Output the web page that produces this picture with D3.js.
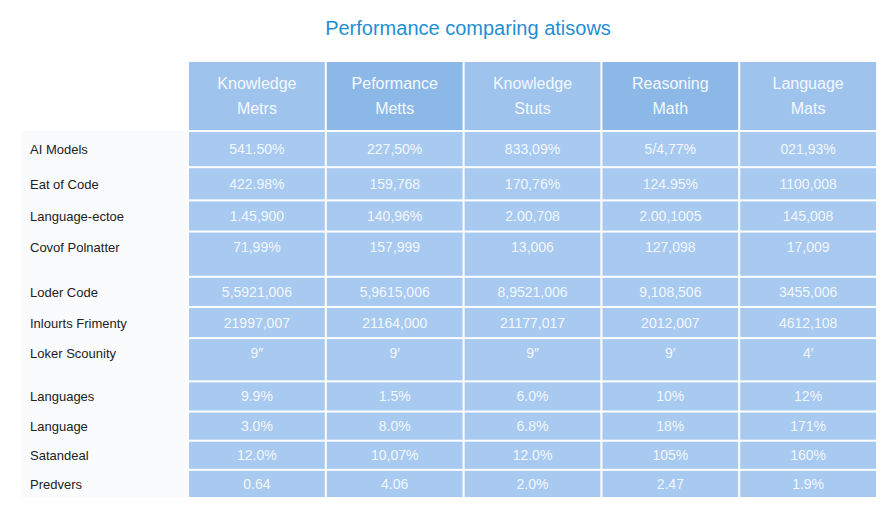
<!DOCTYPE html>
<html>
<head>
<meta charset="utf-8">
<script src="https://cdn.jsdelivr.net/npm/d3@7"></script>
<style>
  body { margin: 0; background: #fff; }
  svg { display: block; font-family: "Liberation Sans", Arial, sans-serif; }
</style>
</head>
<body>
<svg id="chart" width="896" height="512"></svg>
<script>
const TITLE = "Performance comparing atisows";
const COLUMNS = [
  ["Knowledge", "Metrs"],
  ["Peformance", "Metts"],
  ["Knowledge", "Stuts"],
  ["Reasoning", "Math"],
  ["Language", "Mats"],
];
const ROW_LABELS = [
  "AI Models", "Eat of Code", "Language-ectoe", "Covof Polnatter",
  "Loder Code", "Inlourts Frimenty", "Loker Scounity",
  "Languages", "Language", "Satandeal", "Predvers",
];
const VALUES = [
  ["541.50%", "227,50%", "833,09%", "5/4,77%", "021,93%"],
  ["422.98%", "159,768", "170,76%", "124.95%", "1100,008"],
  ["1.45,900", "140,96%", "2.00,708", "2.00,1005", "145,008"],
  ["71,99%", "157,999", "13,006", "127,098", "17,009"],
  ["5,5921,006", "5,9615,006", "8,9521,006", "9,108,506", "3455,006"],
  ["21997,007", "21164,000", "21177,017", "2012,007", "4612,108"],
  ["9\u2033", "9\u2032", "9\u2033", "9\u2032", "4\u2032"],
  ["9.9%", "1.5%", "6.0%", "10%", "12%"],
  ["3.0%", "8.0%", "6.8%", "18%", "171%"],
  ["12.0%", "10,07%", "12.0%", "105%", "160%"],
  ["0.64", "4.06", "2.0%", "2.47", "1.9%"],
];
// relative row heights (layout, not data); tall rows leave a gap under their text
const ROW_UNITS = [36, 33, 31, 45, 30, 31, 43, 30, 29, 29, 28];
const TALL = [3, 6];

const svg = d3.select("#chart");
const tableLeft = 188, tableRight = 877, headTop = 62, headBottom = 131, tableBottom = 498;

svg.append("text")
  .attr("x", 468).attr("y", 35)
  .attr("text-anchor", "middle")
  .attr("font-size", 20)
  .attr("fill", "#1f8fd3")
  .text(TITLE);

const x = d3.scaleBand().domain(d3.range(COLUMNS.length)).range([tableLeft, tableRight]);

const cum = [0, ...d3.cumsum(ROW_UNITS)];
const y = d3.scaleLinear().domain([0, cum[cum.length - 1]]).range([headBottom, tableBottom]);

// header
const head = svg.append("g");
head.selectAll("rect")
  .data(COLUMNS)
  .join("rect")
  .attr("x", (_, i) => x(i) + 1)
  .attr("y", headTop)
  .attr("width", x.bandwidth() - 2)
  .attr("height", headBottom - headTop - 1)
  .attr("fill", (_, i) => i % 2 ? "#8cb8e8" : "#9ec4ee");
head.selectAll("text")
  .data(COLUMNS)
  .join("text")
  .attr("x", (_, i) => x(i) + x.bandwidth() / 2)
  .attr("text-anchor", "middle")
  .attr("font-size", 16)
  .attr("fill", "#f4f8fd")
  .selectAll("tspan")
  .data((d) => d)
  .join("tspan")
  .attr("x", function () { return this.parentNode.getAttribute("x"); })
  .attr("y", (_, j) => 89 + j * 25)
  .text((d) => d);

// label background
svg.append("rect")
  .attr("x", 22).attr("y", y(0)).attr("width", tableLeft - 22).attr("height", tableBottom - y(0))
  .attr("fill", "#fafbfd");

const rows = svg.selectAll("g.row")
  .data(VALUES)
  .join("g")
  .attr("class", "row");

rows.each(function (vals, r) {
  const g = d3.select(this);
  const top = y(cum[r]), bottom = y(cum[r + 1]);
  const ty = TALL.includes(r) ? top + 20 : (top + bottom) / 2 + 5;
  g.selectAll("rect")
    .data(vals)
    .join("rect")
    .attr("x", (_, i) => x(i) + 1)
    .attr("y", top + 1)
    .attr("width", x.bandwidth() - 2)
    .attr("height", bottom - top - 2)
    .attr("fill", "#a9caf0");
  g.selectAll("text.val")
    .data(vals)
    .join("text")
    .attr("class", "val")
    .attr("x", (_, i) => x(i) + x.bandwidth() / 2)
    .attr("y", ty)
    .attr("text-anchor", "middle")
    .attr("font-size", 14)
    .attr("fill", "#f2f7fd")
    .text((d) => d);
  g.append("text")
    .attr("x", 30)
    .attr("y", ty)
    .attr("font-size", 13)
    .attr("fill", "#222")
    .text(ROW_LABELS[r]);
});
</script>
</body>
</html>
